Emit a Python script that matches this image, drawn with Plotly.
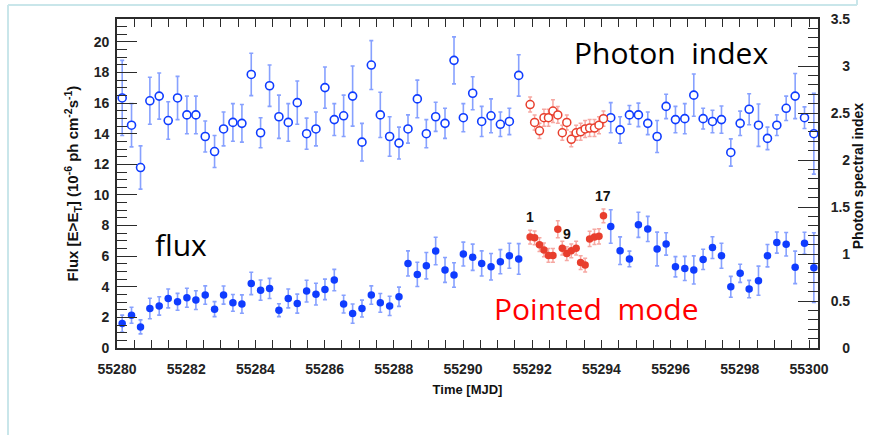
import plotly.graph_objects as go

# ---------------- data ----------------
# Survey-mode (blue) times [MJD]
t_survey = [55280.15, 55280.42, 55280.68, 55280.95, 55281.22, 55281.48, 55281.75, 55282.02,
            55282.28, 55282.55, 55282.82, 55283.08, 55283.35, 55283.61, 55283.88, 55284.15,
            55284.41, 55284.68, 55284.95, 55285.21, 55285.48, 55285.75, 55286.01, 55286.28,
            55286.55, 55286.81, 55287.08, 55287.35, 55287.61, 55287.88, 55288.15, 55288.41,
            55288.68, 55288.94, 55289.21, 55289.48, 55289.74, 55290.01, 55290.28, 55290.54,
            55290.81, 55291.08, 55291.34, 55291.61,
            55294.27, 55294.54, 55294.81, 55295.07, 55295.34, 55295.61, 55295.87, 55296.14,
            55296.41, 55296.67, 55296.94, 55297.21, 55297.47, 55297.74, 55298.01, 55298.27,
            55298.54, 55298.80, 55299.07, 55299.34, 55299.60, 55299.87, 55300.14]

flux_survey = [1.60, 2.14, 1.38, 2.58, 2.75, 3.24, 3.02, 3.28, 3.13, 3.46, 2.54, 3.46, 2.95, 2.87,
               4.22, 3.78, 3.89, 2.47, 3.24, 2.90, 3.72, 3.52, 3.83, 4.44, 2.87, 2.25, 2.58, 3.46,
               2.95, 2.75, 3.35, 5.53, 4.81, 5.38, 6.34, 5.10, 4.77, 6.14, 5.93, 5.53, 5.31, 5.64,
               6.03, 5.82,
               7.94, 6.36, 5.82, 8.05, 7.78, 6.47, 6.80, 5.31, 5.20, 5.10, 5.79, 6.56, 6.03, 4.00,
               4.88, 3.85, 4.40, 6.03, 6.89, 6.78, 5.27, 6.85, 5.25]
flux_survey_err = [0.55, 0.52, 0.46, 0.67, 0.60, 0.62, 0.55, 0.62, 0.61, 0.60, 0.49, 0.59, 0.55, 0.60,
                   0.73, 0.66, 0.66, 0.42, 0.62, 0.62, 0.71, 0.71, 0.67, 0.70, 0.58, 0.63, 0.55, 0.60,
                   0.61, 0.63, 0.63, 0.82, 0.79, 0.86, 0.90, 0.81, 0.80, 0.78, 0.86, 0.82, 0.87, 0.79,
                   0.82, 1.00,
                   1.09, 0.90, 0.51, 0.82, 0.82, 1.10, 0.73, 0.66, 0.79, 0.92, 0.66, 0.71, 0.82, 0.68,
                   0.59, 0.57, 0.95, 0.73, 0.69, 0.77, 1.06, 0.71, 2.28]

index_survey = [2.66, 2.37, 1.92, 2.63, 2.68, 2.42, 2.66, 2.48, 2.48, 2.25, 2.09, 2.33, 2.40, 2.39,
                2.91, 2.29, 2.79, 2.46, 2.40, 2.61, 2.28, 2.33, 2.77, 2.43, 2.47, 2.68, 2.19, 3.01,
                2.48, 2.25, 2.18, 2.33, 2.65, 2.28, 2.46, 2.39, 3.06, 2.45, 2.71, 2.41, 2.47, 2.38,
                2.41, 2.90,
                2.45, 2.32, 2.48, 2.48, 2.39, 2.25, 2.57, 2.43, 2.44, 2.69, 2.44, 2.41, 2.43, 2.08,
                2.39, 2.54, 2.37, 2.23, 2.37, 2.55, 2.68, 2.45, 2.28]
index_survey_err = [0.40, 0.23, 0.23, 0.25, 0.245, 0.20, 0.23, 0.20, 0.20, 0.165, 0.17, 0.18, 0.20, 0.20,
                    0.225, 0.16, 0.22, 0.23, 0.20, 0.23, 0.165, 0.18, 0.22, 0.17, 0.22, 0.32, 0.20, 0.26,
                    0.24, 0.21, 0.17, 0.15, 0.20, 0.15, 0.155, 0.16, 0.25, 0.15, 0.175, 0.16, 0.18, 0.13,
                    0.14, 0.22,
                    0.16, 0.14, 0.10, 0.125, 0.12, 0.17, 0.13, 0.14, 0.16, 0.225, 0.11, 0.12, 0.145, 0.145,
                    0.13, 0.165, 0.225, 0.12, 0.11, 0.13, 0.24, 0.115, 0.43]

# Pointed-mode (red) times [MJD]
t_pointed = [55291.94, 55292.07, 55292.21, 55292.34, 55292.47, 55292.60, 55292.74, 55292.87,
             55293.00, 55293.13, 55293.27, 55293.40, 55293.53, 55293.66, 55293.80, 55293.93, 55294.06]
flux_pointed = [7.25, 7.20, 6.75, 6.41, 6.05, 6.05, 7.76, 6.52, 6.17, 6.35, 6.52, 5.58, 5.42,
                7.13, 7.26, 7.30, 8.64]
flux_pointed_err = [0.45, 0.45, 0.45, 0.45, 0.45, 0.45, 0.55, 0.45, 0.45, 0.45, 0.45, 0.45, 0.45,
                    0.50, 0.50, 0.50, 0.45]
index_pointed = [2.59, 2.40, 2.31, 2.45, 2.45, 2.52, 2.48, 2.29, 2.40, 2.22, 2.29, 2.30, 2.33,
                 2.34, 2.34, 2.37, 2.44]
index_pointed_err = [0.08, 0.08, 0.08, 0.09, 0.09, 0.12, 0.09, 0.08, 0.08, 0.08, 0.08, 0.09, 0.09,
                     0.09, 0.09, 0.09, 0.08]

point_labels = ["1", "9", "17"]
point_label_idx = [0, 8, 16]

x_ticks = [55280, 55282, 55284, 55286, 55288, 55290, 55292, 55294, 55296, 55298, 55300]
y_ticks = [0, 2, 4, 6, 8, 10, 12, 14, 16, 18, 20]
y2_ticks = [0, 0.5, 1, 1.5, 2, 2.5, 3, 3.5]
y2_ticktext = ["\u2008\u20070", "0.5", "\u2008\u20071", "1.5", "\u2008\u20072", "2.5", "\u2008\u20073", "3.5"]

# ---------------- styles ----------------
BLUE = "rgb(15,60,255)"
BLUE_ERR = "rgba(70,110,255,0.65)"
RED = "rgb(232,62,45)"
RED_ERR = "rgba(240,110,100,0.6)"
AX = "#2b2b2b"
TICKFONT = dict(family="Liberation Sans, Arial, sans-serif", size=14, color="#222", weight="bold")

fig = go.Figure()

# flux, survey
fig.add_trace(go.Scatter(
    x=t_survey, y=flux_survey, mode="markers", yaxis="y",
    marker=dict(color=BLUE, size=7.5),
    error_y=dict(type="data", array=flux_survey_err, color=BLUE_ERR, thickness=1.6, width=2),
    showlegend=False))
# index, survey
fig.add_trace(go.Scatter(
    x=t_survey, y=index_survey, mode="markers", yaxis="y2",
    marker=dict(color="white", size=8, line=dict(color=BLUE, width=1.6)),
    error_y=dict(type="data", array=index_survey_err, color=BLUE_ERR, thickness=1.6, width=2),
    showlegend=False))
# flux, pointed
fig.add_trace(go.Scatter(
    x=t_pointed, y=flux_pointed, mode="markers", yaxis="y",
    marker=dict(color=RED, size=7.5),
    error_y=dict(type="data", array=flux_pointed_err, color=RED_ERR, thickness=1.5, width=2),
    showlegend=False))
# index, pointed
fig.add_trace(go.Scatter(
    x=t_pointed, y=index_pointed, mode="markers", yaxis="y2",
    marker=dict(color="white", size=8, line=dict(color=RED, width=1.5)),
    error_y=dict(type="data", array=index_pointed_err, color=RED_ERR, thickness=1.5, width=2),
    showlegend=False))

annotations = []
for lab, k in zip(point_labels, point_label_idx):
    annotations.append(dict(
        x=t_pointed[k], y=flux_pointed[k], xref="x", yref="y", text=lab, showarrow=False,
        yshift=20, font=dict(family="Liberation Sans, Arial", size=14, color="#111", weight="bold")))

annotations += [
    dict(x=55296.0, y=19.3, xref="x", yref="y", text="Photon\u00a0\u00a0index", showarrow=False,
         font=dict(family="Open Sans, Noto Sans, sans-serif", size=30, color="black")),
    dict(x=55281.85, y=6.75, xref="x", yref="y", text="flux", showarrow=False,
         font=dict(family="Open Sans, Noto Sans, sans-serif", size=30, color="black")),
    dict(x=55293.87, y=2.6, xref="x", yref="y", text="Pointed\u00a0\u00a0mode", showarrow=False,
         font=dict(family="Open Sans, Noto Sans, sans-serif", size=30, color="red")),
    dict(x=1.0713, y=0.75, xref="paper", yref="paper", text="Photon spectral index", showarrow=False,
         textangle=-90,
         font=dict(family="Liberation Sans, Arial", size=14, color="#111", weight="bold")),
]

# slide frame (light blue border)
BORDER = "#c9e6ea"
shapes = [
    dict(type="line", xref="paper", yref="paper", x0=-0.1555, x1=1.0556, y0=1.0426, y1=1.0426,
         line=dict(color=BORDER, width=2)),
    dict(type="line", xref="paper", yref="paper", x0=-0.1555, x1=-0.1555, y0=1.0426, y1=-0.27,
         line=dict(color=BORDER, width=2)),
    dict(type="line", xref="paper", yref="paper", x0=1.0556, x1=1.0556, y0=1.0426, y1=1.06,
         line=dict(color=BORDER, width=2)),
]

fig.update_layout(
    width=874, height=435,
    margin=dict(l=117, r=56, t=19, b=87),
    paper_bgcolor="white", plot_bgcolor="white",
    annotations=annotations, shapes=shapes,
    xaxis=dict(
        range=[55280.0, 55300.26], tickvals=x_ticks, ticktext=[str(v) for v in x_ticks],
        ticks="inside", ticklen=8, tickwidth=1.3, tickcolor=AX,
        minor=dict(dtick=0.5, tick0=55280, ticks="inside", ticklen=4, tickwidth=1.2, tickcolor=AX),
        showline=True, linecolor=AX, linewidth=1.8, mirror="allticks",
        showgrid=False, zeroline=False, tickfont=TICKFONT, ticklabelstandoff=7,
        title=dict(text="Time [MJD]", standoff=9,
                   font=dict(family="Liberation Sans, Arial", size=13, color="#111", weight="bold")),
    ),
    yaxis=dict(
        range=[0, 21.5], tickvals=y_ticks, ticktext=[str(v) for v in y_ticks],
        ticks="inside", ticklen=20, tickwidth=1.3, tickcolor=AX,
        minor=dict(dtick=0.5, tick0=0, ticks="inside", ticklen=10, tickwidth=1.2, tickcolor=AX),
        showline=True, linecolor=AX, linewidth=1.8,
        showgrid=False, zeroline=False, tickfont=TICKFONT, ticklabelstandoff=3,
        title=dict(text="Flux [E>E<sub>T</sub>] (10<sup>-6</sup> ph cm<sup>-2</sup>s<sup>-1</sup>)",
                   standoff=11,
                   font=dict(family="Liberation Sans, Arial", size=15, color="#111", weight="bold")),
    ),
    yaxis2=dict(
        range=[0, 3.5], overlaying="y", side="right", anchor="x",
        tickvals=y2_ticks, ticktext=y2_ticktext,
        ticks="inside", ticklen=20, tickwidth=1.3, tickcolor=AX,
        minor=dict(dtick=0.1, tick0=0, ticks="inside", ticklen=10, tickwidth=1.2, tickcolor=AX),
        showline=True, linecolor=AX, linewidth=1.8,
        showgrid=False, zeroline=False, tickfont=TICKFONT, ticklabelstandoff=8,
    ),
)

fig.write_html("out.html")
